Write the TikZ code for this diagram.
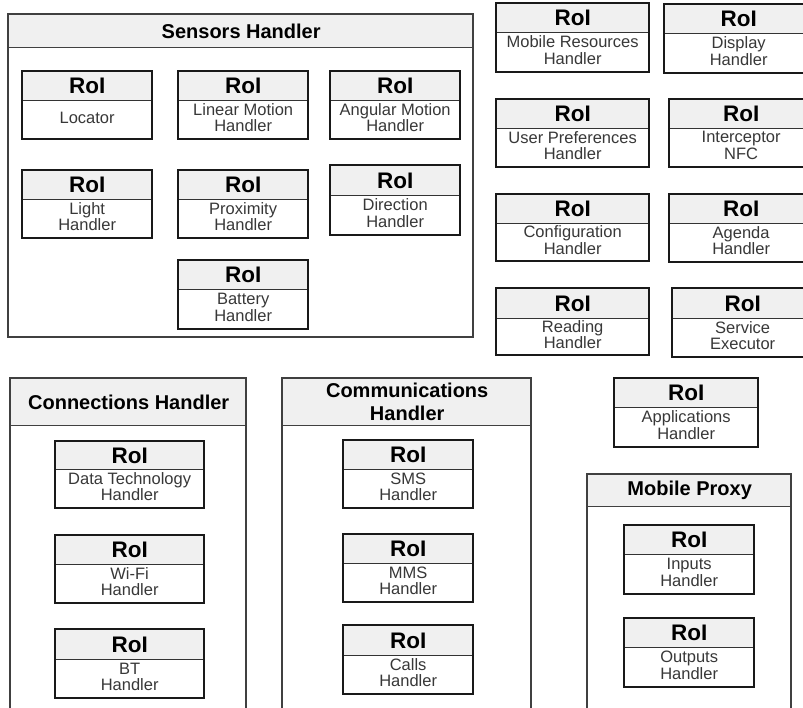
\documentclass[tikz,border=0pt]{standalone}
\usepackage{fontspec}
\setmainfont{Liberation Sans}
\definecolor{headfill}{HTML}{F0F0F0}
\definecolor{bodytext}{HTML}{383838}
\tikzset{
  roiframe/.style={draw=black!90, line width=1.7pt},
  roihead/.style={fill=headfill, draw=black!80, line width=1.3pt, inner sep=0pt,
    font=\bfseries\fontsize{22.5}{24}\selectfont, text=black},
  roibody/.style={fill=white, draw=black!80, line width=1.3pt, inner sep=0pt},
  roitext/.style={inner sep=0pt, align=center,
    font=\fontsize{16.5}{16.5}\selectfont, text=bodytext},
  conthead/.style={fill=headfill, draw=black!75, line width=1.4pt, inner sep=0pt, align=center,
    font=\bfseries\fontsize{20}{23}\selectfont, text=black},
  contframe/.style={draw=black!75, line width=1.4pt},
}
% RoI box: name, left, top, right, divider, bottom, label
\newcommand\roibox[7]{%
  \pgfmathsetmacro\rw{#4-#2}%
  \pgfmathsetmacro\rh{#5-#3}%
  \pgfmathsetmacro\rb{#6-#5}%
  \node[roihead, minimum width=\rw pt, minimum height=\rh pt, anchor=north west] (#1-head) at (#2,#3) {RoI};
  \node[roibody, minimum width=\rw pt, minimum height=\rb pt, anchor=north west] (#1) at (#2,#5) {};
  \node[roitext] (#1-text) at ([yshift=2pt]#1.center) {#7};
  \draw[roiframe] (#1-head.north west) rectangle (#1.south east);
}
% Container: name, left, top, right, header bottom, bottom, title
\newcommand\container[7]{%
  \pgfmathsetmacro\cw{#4-#2}%
  \pgfmathsetmacro\ch{#5-#3}%
  \node[conthead, minimum width=\cw pt, minimum height=\ch pt, anchor=north west] (#1) at (#2,#3) {#7};
  \coordinate (#1-se) at (#4,#6);
  \draw[contframe] (#1.north west) rectangle (#1-se);
}
\begin{document}
\begin{tikzpicture}[x=1pt, y=-1pt]
\useasboundingbox (0,0) rectangle (803,707);
\clip (0,0) rectangle (803,707);
\fill[white] (0,0) rectangle (803,707);

% Sensors handler group
\container{sens}{8}{14}{473}{47}{337}{Sensors Handler}
\roibox{loc}{22}{71}{151}{100}{138}{Locator}
\roibox{lin}{178}{71}{307}{100}{138}{Linear Motion\\Handler}
\roibox{ang}{330}{71}{459}{100}{138}{Angular Motion\\Handler}
\roibox{light}{22}{170}{151}{199}{237}{Light\\Handler}
\roibox{prox}{178}{170}{307}{199}{237}{Proximity\\Handler}
\roibox{dir}{330}{165}{459}{195}{234}{Direction\\Handler}
\roibox{bat}{178}{260}{307}{289}{328}{Battery\\Handler}

% Stand-alone handlers, top right
\roibox{mres}{496}{3}{648}{32}{71}{Mobile Resources\\Handler}
\roibox{disp}{664}{4}{812}{33}{72}{Display\\Handler}
\roibox{upref}{496}{99}{648}{128}{166}{User Preferences\\Handler}
\roibox{nfc}{669}{99}{812}{128}{166}{Interceptor\\NFC}
\roibox{conf}{496}{194}{648}{223}{260}{Configuration\\Handler}
\roibox{agenda}{669}{194}{812}{223}{261}{Agenda\\Handler}
\roibox{read}{496}{288}{648}{318}{354}{Reading\\Handler}
\roibox{serv}{672}{288}{812}{318}{356}{Service\\Executor}

% Connections handler group
\container{conn}{10}{378}{246}{425}{712}{Connections Handler}
\roibox{dtech}{55}{441}{203}{469}{507}{Data Technology\\Handler}
\roibox{wifi}{55}{535}{203}{564}{602}{Wi-Fi\\Handler}
\roibox{bt}{55}{629}{203}{659}{697}{BT\\Handler}

% Communications handler group
\container{comm}{282}{378}{531}{425}{712}{Communications\\Handler}
\roibox{sms}{343}{440}{472}{469}{507}{SMS\\Handler}
\roibox{mms}{343}{534}{472}{563}{601}{MMS\\Handler}
\roibox{calls}{343}{625}{472}{655}{693}{Calls\\Handler}

% Applications handler
\roibox{apps}{614}{378}{757}{407}{446}{Applications\\Handler}

% Mobile proxy group
\container{proxy}{587}{474}{791}{506}{712}{Mobile Proxy}
\roibox{inputs}{624}{525}{753}{554}{593}{Inputs\\Handler}
\roibox{outputs}{624}{618}{753}{647}{686}{Outputs\\Handler}
\end{tikzpicture}
\end{document}
